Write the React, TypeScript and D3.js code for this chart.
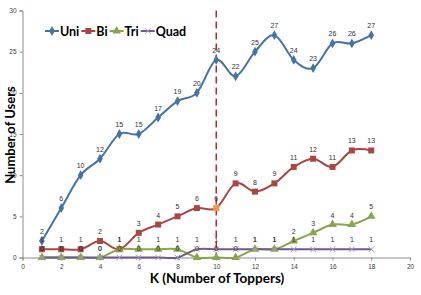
import React, { useEffect, useRef } from 'react';
import * as d3 from 'd3';

const kValues = [1, 2, 3, 4, 5, 6, 7, 8, 9, 10, 11, 12, 13, 14, 15, 16, 17, 18];
const uni = [2, 6, 10, 12, 15, 15, 17, 19, 20, 24, 22, 25, 27, 24, 23, 26, 26, 27];
const bi = [1, 1, 1, 2, 1, 3, 4, 5, 6, 6, 9, 8, 9, 11, 12, 11, 13, 13];
const tri = [0, 0, 0, 0, 1, 1, 1, 1, 0, 0, 0, 1, 1, 2, 3, 4, 4, 5];
const quad = [0, 0, 0, 0, 0, 0, 0, 0, 1, 1, 1, 1, 1, 1, 1, 1, 1, 1];
const seriesNames = ['Uni', 'Bi', 'Tri', 'Quad'];
const seriesColors = ['#4572A7', '#AA4643', '#89A54E', '#71588F'];
const xTicks = [0, 2, 4, 6, 8, 10, 12, 14, 16, 18, 20];
const yTicks = [0, 5, 10, 15, 20, 25, 30];
const cutoffK = 10;

const W = 421;
const H = 295;

const App = () => {
  const svgRef = useRef<SVGSVGElement>(null);

  useEffect(() => {
    const svg = d3.select(svgRef.current);
    svg.selectAll('*').remove();

    const x = d3.scaleLinear().domain([0, 20]).range([22.5, 410]);
    const y = d3.scaleLinear().domain([0, 30]).range([257.5, 10.5]);

    svg.append('rect').attr('width', W).attr('height', H).attr('fill', '#ffffff');

    // axes
    const yAxis = svg.append('g')
      .attr('transform', `translate(${x(0)},0)`)
      .call(d3.axisLeft(y).tickValues(yTicks).tickSize(3).tickPadding(3));
    const xAxis = svg.append('g')
      .attr('transform', `translate(0,${y(0)})`)
      .call(d3.axisBottom(x).tickValues(xTicks).tickSize(3).tickPadding(4));
    [xAxis, yAxis].forEach(a => {
      a.select('.domain').attr('stroke', '#8c8c8c');
      a.selectAll('line').attr('stroke', '#8c8c8c');
      a.selectAll('text')
        .attr('font-family', 'Liberation Sans, sans-serif')
        .attr('font-size', 6.5)
        .attr('fill', '#404040');
    });

    const allSeries = [uni, bi, tri, quad];
    const line = d3.line<number>()
      .x((d, i) => x(kValues[i]))
      .y(d => y(d))
      .curve(d3.curveCardinal.tension(0));

    allSeries.forEach((s, si) => {
      svg.append('path')
        .datum(s)
        .attr('d', line)
        .attr('fill', 'none')
        .attr('stroke', seriesColors[si])
        .attr('stroke-width', 2);
    });

    // cutoff line
    svg.append('line')
      .attr('x1', x(cutoffK)).attr('x2', x(cutoffK))
      .attr('y1', y(30)).attr('y2', y(0))
      .attr('stroke', '#C0272D')
      .attr('stroke-width', 1.5)
      .attr('stroke-dasharray', '7,4');

    const symbols = [d3.symbolDiamond, d3.symbolSquare, d3.symbolTriangle, d3.symbolTimes];
    const sizes = [28, 36, 32, 22];
    const drawMarker = (g, si, cx, cy, fill?) => {
      const p = g.append('path')
        .attr('d', d3.symbol(symbols[si], sizes[si])())
        .attr('transform', `translate(${cx},${cy})`);
      if (si === 3) {
        p.attr('fill', 'none').attr('stroke', '#A99BC0').attr('stroke-width', 1);
      } else {
        p.attr('fill', fill || seriesColors[si]).attr('stroke', 'none');
      }
    };

    allSeries.forEach((s, si) => {
      s.forEach((v, i) => {
        const hl = si === 1 && kValues[i] === cutoffK;
        drawMarker(svg, si, x(kValues[i]), y(v), hl ? '#F79646' : null);
      });
    });

    // data labels
    allSeries.forEach(s => {
      svg.append('g').selectAll('text')
        .data(s)
        .enter()
        .append('text')
        .attr('x', (d, i) => x(kValues[i]))
        .attr('y', d => y(d) - 7)
        .attr('text-anchor', 'middle')
        .attr('font-family', 'Liberation Sans, sans-serif')
        .attr('font-size', 7)
        .attr('font-weight', 'normal')
        .attr('fill', '#333333')
        .text(d => d);
    });

    // legend
    const legend = svg.append('g').attr('transform', 'translate(45,31)');
    let lx = 0;
    seriesNames.forEach((name, si) => {
      legend.append('line')
        .attr('x1', lx).attr('x2', lx + 14)
        .attr('stroke', seriesColors[si])
        .attr('stroke-width', 2);
      drawMarker(legend, si, lx + 7, 0, null);
      const t = legend.append('text')
        .attr('x', lx + 15)
        .attr('y', 4.5)
        .attr('font-family', 'Lato, sans-serif')
        .attr('font-weight', 'bold')
        .attr('font-size', 12.5)
        .attr('fill', '#000')
        .text(name);
      lx += 15 + (t.node() as SVGTextElement).getComputedTextLength() + 2;
    });

    // axis titles
    svg.append('text')
      .attr('x', 217)
      .attr('y', 283)
      .attr('text-anchor', 'middle')
      .attr('font-family', 'Lato, sans-serif')
      .attr('font-weight', 'bold')
      .attr('font-size', 13.5)
      .text('K (Number of Toppers)');

    svg.append('text')
      .attr('transform', 'translate(15,135) rotate(-90)')
      .attr('text-anchor', 'middle')
      .attr('font-family', 'Lato, sans-serif')
      .attr('font-weight', 'bold')
      .attr('font-size', 13)
      .text('Number of Users');
  }, []);

  return (
    <svg
      ref={svgRef}
      width={W}
      height={H}
      style={{ position: 'absolute', left: 0, top: 0, display: 'block' }}
    />
  );
};

export default App;
